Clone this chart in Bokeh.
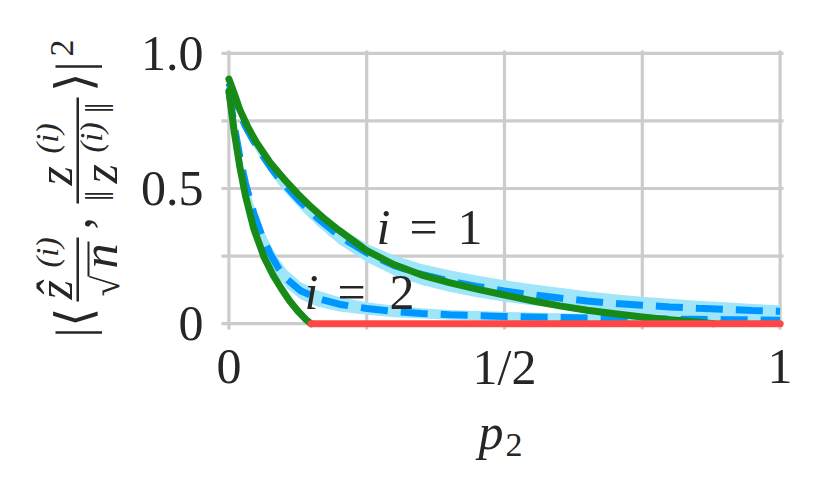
import math
from bokeh.plotting import figure
from bokeh.models import Range1d, Label
from bokeh.core.properties import value
from bokeh.embed import file_html
from bokeh.resources import INLINE

# ---------------- data ----------------
# theory curve, i = 1 (green)
p_theory1 = [0, 0.01, 0.02, 0.035, 0.05, 0.075, 0.1, 0.125, 0.15, 0.175, 0.2, 0.25,
             0.3, 0.35, 0.4, 0.45, 0.5, 0.55, 0.6, 0.65, 0.7, 0.75, 0.8, 0.85, 0.88]
theory1 = [0.905, 0.85, 0.79, 0.725, 0.67, 0.595, 0.535, 0.48, 0.43, 0.385, 0.345, 0.27,
           0.218, 0.18, 0.152, 0.128, 0.106, 0.085, 0.066, 0.05, 0.037, 0.025, 0.015, 0.006, 0.0]
# theory curve, i = 2 (green, until it reaches zero)
p_theory2 = [0, 0.01, 0.02, 0.03, 0.045, 0.064, 0.08, 0.095, 0.11, 0.125, 0.14, 0.149]
theory2 = [0.86, 0.705, 0.578, 0.474, 0.352, 0.245, 0.18, 0.13, 0.085, 0.047, 0.015, 0.0]
# theory, zero part (red)
p_zero = [0.149, 1.0]
theory_zero = [0.0, 0.0]

# simulations: mean (dashed) and spread (band)
p_sim = [0, 0.01, 0.02, 0.03, 0.045, 0.06, 0.075, 0.09, 0.105, 0.13, 0.16, 0.2, 0.25, 0.3,
         0.35, 0.4, 0.45, 0.5, 0.55, 0.6, 0.65, 0.7, 0.75, 0.8, 0.85, 0.9, 0.95, 1.0]
sim1_mean = [0.89, 0.83, 0.775, 0.73, 0.675, 0.625, 0.58, 0.54, 0.505, 0.45, 0.392, 0.325, 0.262,
             0.215, 0.182, 0.158, 0.138, 0.121, 0.107, 0.095, 0.084, 0.075, 0.068, 0.062, 0.057,
             0.053, 0.049, 0.046]
sim1_lo = [0.88, 0.817, 0.759, 0.712, 0.655, 0.603, 0.557, 0.516, 0.48, 0.423, 0.363, 0.294, 0.228,
           0.178, 0.143, 0.118, 0.098, 0.081, 0.068, 0.057, 0.048, 0.041, 0.036, 0.032, 0.029,
           0.027, 0.025, 0.024]
sim1_hi = [0.9, 0.843, 0.791, 0.748, 0.695, 0.647, 0.603, 0.564, 0.53, 0.477, 0.421, 0.356, 0.296,
           0.252, 0.221, 0.198, 0.178, 0.161, 0.146, 0.133, 0.12, 0.109, 0.1, 0.092, 0.085,
           0.079, 0.073, 0.068]
sim2_mean = [0.86, 0.73, 0.615, 0.52, 0.41, 0.325, 0.258, 0.205, 0.165, 0.122, 0.094, 0.072, 0.056,
             0.045, 0.038, 0.033, 0.03, 0.027, 0.025, 0.023, 0.021, 0.02, 0.018, 0.017, 0.016,
             0.015, 0.014, 0.013]
sim2_lo = [0.85, 0.712, 0.593, 0.495, 0.38, 0.292, 0.223, 0.17, 0.131, 0.09, 0.064, 0.045, 0.033,
           0.024, 0.019, 0.015, 0.013, 0.01, 0.009, 0.007, 0.005, 0.005, 0.003, 0.002, 0.002,
           0.001, 0.0, 0.0]
sim2_hi = [0.87, 0.748, 0.637, 0.545, 0.44, 0.358, 0.293, 0.24, 0.199, 0.154, 0.124, 0.099, 0.079,
           0.066, 0.057, 0.051, 0.047, 0.044, 0.041, 0.039, 0.037, 0.035, 0.033, 0.032, 0.03,
           0.029, 0.028, 0.027]

# ticks and grid
x_grid = [0, 0.25, 0.5, 0.75, 1]
x_major = [0, 0.5, 1]
x_tick_text = ["0", "1/2", "1"]
y_grid = [0, 0.25, 0.5, 0.75, 1]
y_major = [0, 0.5, 1]
y_tick_text = ["0", "0.5", "1.0"]

# ---------------- style ----------------
FONT = "Liberation Serif"
INK = "#262626"
GRID = "#cccccc"
GREEN = "#178a17"
BLUE = "#0096ff"
BAND = "#a0e6fb"
RED = "#ff4747"
W, H = 818, 488

# page pixel -> data (x = 0 at 228.4 px, 551.2 px per unit; y = 0 at 323.2 px, 270.4 px per unit)
def dx(px):
    return (px - 228.4) / 551.2

def dy(py):
    return (323.2 - py) / 270.4

p = figure(width=W, height=H,
           x_range=Range1d(dx(0), dx(W)), y_range=Range1d(dy(H), dy(0)),
           output_backend="svg", toolbar_location=None, title=None,
           x_axis_location=None, y_axis_location=None,
           min_border_left=0, min_border_right=0, min_border_top=0, min_border_bottom=0,
           background_fill_color="white", border_fill_color="white")
p.outline_line_color = None
p.grid.visible = False

# grid lines (each with its short outward tick)
n = len(x_grid)
p.segment(x0=x_grid, x1=x_grid, y0=[dy(329)] * n, y1=[dy(50)] * n,
          line_color=GRID, line_width=3.2)
m = len(y_grid)
p.segment(x0=[dx(221)] * m, x1=[dx(783)] * m, y0=y_grid, y1=y_grid,
          line_color=GRID, line_width=3.2)

# tick labels
p.text(x=x_major, y=[dy(366)] * len(x_major), text=x_tick_text,
       text_align="center", text_baseline="alphabetic", text_font=value(FONT),
       text_font_size=value("50px"), text_color=INK)
p.text(x=[dx(203)] * len(y_major), y=y_major, text=y_tick_text,
       text_align="right", text_baseline="middle", text_font=value(FONT),
       text_font_size=value("50px"), text_color=INK)

# x-axis title p_2
p.add_layout(Label(x=dx(478), y=dy(431), text="p", text_font=FONT, text_font_size="50px",
                   text_font_style="italic", text_color=INK, text_baseline="alphabetic"))
p.add_layout(Label(x=dx(505), y=dy(444), text="2", text_font=FONT, text_font_size="34px",
                   text_color=INK, text_baseline="alphabetic"))

# bands
p.varea(x=p_sim, y1=sim1_lo, y2=sim1_hi, fill_color=BAND)
p.varea(x=p_sim, y1=sim2_lo, y2=sim2_hi, fill_color=BAND)
# simulation means
p.line(p_sim, sim1_mean, line_color=BLUE, line_width=7, line_dash="27 13")
p.line(p_sim, sim2_mean, line_color=BLUE, line_width=7, line_dash="27 13")
# theory
p.line(p_theory1, theory1, line_color=GREEN, line_width=7, line_cap="round", line_join="round")
p.line(p_theory2, theory2, line_color=GREEN, line_width=7, line_cap="round", line_join="round")
p.line(p_zero, theory_zero, line_color=RED, line_width=7, line_cap="round")

# curve annotations
def ann(text, x, y, off, style="normal"):
    p.add_layout(Label(x=x, y=y, x_offset=off, text=text, text_font=FONT,
                       text_font_size="50px", text_font_style=style, text_color=INK,
                       text_baseline="alphabetic", text_align="left"))

ann("i", 0.2677, 0.3558, 0, "italic")
ann("=", 0.2677, 0.3558, 33)
ann("1", 0.2677, 0.3558, 81)
ann("i", 0.137, 0.1154, 0, "italic")
ann("=", 0.137, 0.1154, 33)
ann("2", 0.137, 0.1154, 85)

# y-axis title |<z^(i)/sqrt(n), z^(i)/||z^(i)||>|^2 built from rotated pieces
def rl(text, px, py, size, style="normal"):
    p.add_layout(Label(x=dx(px), y=dy(py), text=text,
                       angle=math.pi / 2, text_align="left", text_baseline="alphabetic",
                       text_font=FONT, text_font_size=f"{size}px",
                       text_font_style=style, text_color=INK))

def bar(x0, x1, y0, y1):
    p.quad(left=dx(x0), right=dx(x1), top=dy(y0), bottom=dy(y1), fill_color=INK, line_color=None)

rl("|⟨", 73, 337, 50)
rl("ẑ", 54, 299, 50, "italic")
rl("(i)", 46, 267, 32, "italic")
bar(76, 78.5, 237, 301)
rl("√", 105, 296, 38)
bar(87, 89, 241, 276)
rl("n", 99, 268, 50, "italic")
rl(",", 73, 229, 50)
rl("z", 54, 185, 50, "italic")
rl("(i)", 46, 153, 32, "italic")
bar(76, 78.5, 97, 203)
rl("‖", 99, 201, 40)
rl("z", 99, 183, 50, "italic")
rl("(i)", 90, 152, 32, "italic")
rl("‖", 99, 113, 40)
rl("⟩|", 73, 91, 50)
rl("2", 61, 56, 34)

open("out.html", "w").write(file_html(p, INLINE))
